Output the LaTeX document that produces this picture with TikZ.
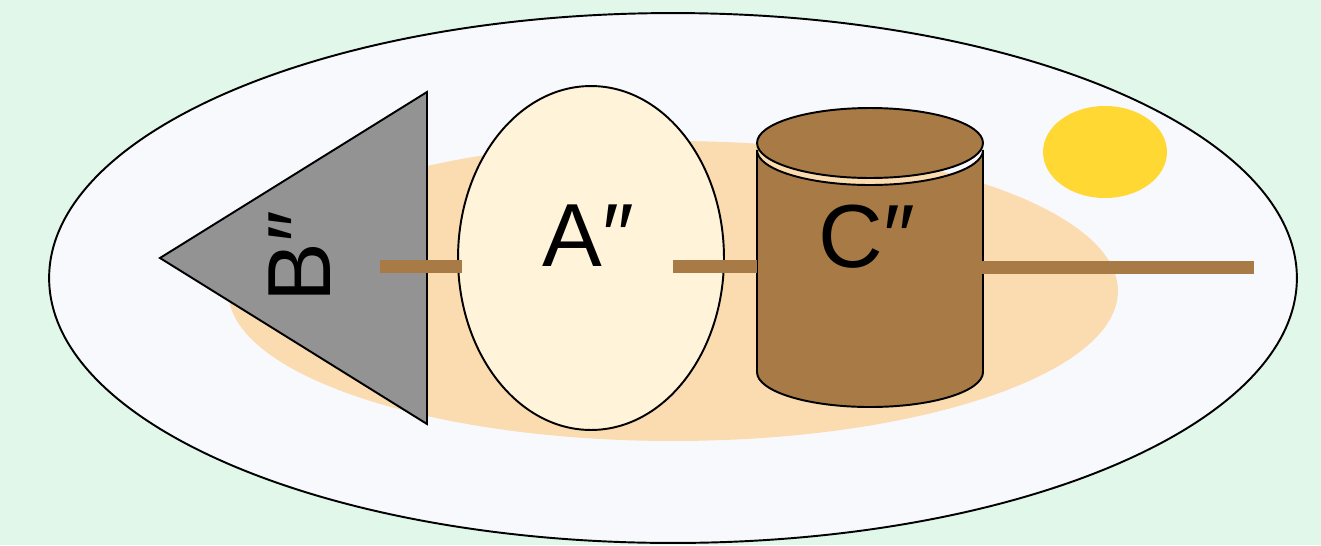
\documentclass[tikz,border=0pt]{standalone}
\usepackage{fontspec}
\setmainfont{Liberation Sans}
\usetikzlibrary{positioning,shapes.geometric}
\definecolor{bgmint}{HTML}{E0F7EA}
\definecolor{platefill}{HTML}{F8F9FD}
\definecolor{peach}{HTML}{FBDBB0}
\definecolor{sun}{HTML}{FFD833}
\definecolor{stone}{HTML}{939393}
\definecolor{cream}{HTML}{FFF4DA}
\definecolor{wood}{HTML}{A87A46}

\begin{document}
\begin{tikzpicture}[x=0.02cm, y=-0.02cm,
  outline/.style={draw=black, line width=1.1pt},
  stick/.style={draw=wood, line width=7.4pt},
  bigtext/.style={font=\fontsize{51}{58}\selectfont, inner sep=0pt}
]
% background
\fill[bgmint] (0,0) rectangle (1321,545);
\useasboundingbox (0,0) rectangle (1321,545);

% plate and shadow
\node[ellipse, outline, fill=platefill, minimum width=24.96cm, minimum height=10.6cm] (plate) at (673,278) {};
\node[ellipse, fill=peach, minimum width=17.8cm, minimum height=6cm] (shadow) at (673,291) {};
\node[ellipse, fill=sun, minimum width=2.48cm, minimum height=1.84cm] (sunspot) at (1105,152) {};

% triangle B
\draw[outline, fill=stone] (160,258) -- (427,92) -- (427,424) -- cycle;
\node[bigtext, rotate=90] (B) at (300,257) {B″};

% ellipse A
\node[ellipse, outline, fill=cream, minimum width=5.32cm, minimum height=6.88cm] (A) at (591,258) {};
\node[bigtext] (Alab) at (588,236) {A″};

% cylinder C
\draw[outline, fill=wood] (757,150) -- (757,372) arc[start angle=180, end angle=360, x radius=113, y radius=-35]
  -- (983,150) arc[start angle=0, end angle=180, x radius=113, y radius=35] -- cycle;
\node[ellipse, outline, fill=wood, minimum width=4.52cm, minimum height=1.4cm] (Ctop) at (870,143) {};
\node[bigtext] (Clab) at (867,237) {C″};

% sticks
\coordinate (s1) at (380,266);
\coordinate (s2) at (673,266);
\coordinate (s3) at (956,267);
\coordinate (tip) at (1254,267);
\draw[stick] (s1) -- ([xshift=0.1cm]A.west |- s1);
\draw[stick] (s2) -- (757,266);
\draw[stick] (s3) -- (tip);
\end{tikzpicture}
\end{document}
